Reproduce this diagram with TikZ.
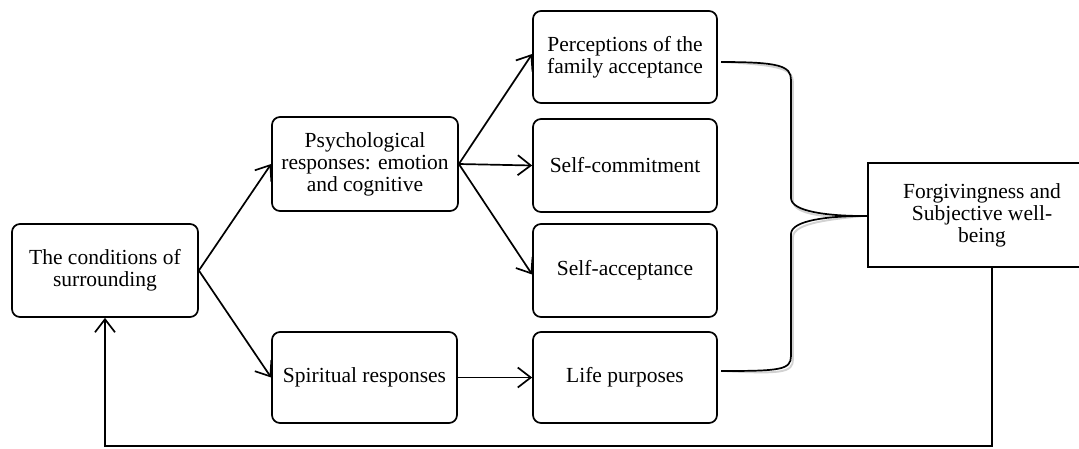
\documentclass[tikz,border=0pt]{standalone}
\usepackage{fontspec}
\setmainfont{Liberation Serif}
\usetikzlibrary{arrows.meta}
\begin{document}
\begin{tikzpicture}[x=1pt,y=-1pt,
  every node/.style={font=\fontsize{21.5}{22}\selectfont, align=center, inner sep=0pt},
  rbox/.style={draw, line width=1.7pt, rounded corners=8pt},
  sbox/.style={draw, line width=1.7pt},
  arr/.style={line width=1.7pt, -{Straight Barb[length=13pt,width=20pt,line width=1.7pt]}},
  ln/.style={line width=1.7pt}]
\clip (0,0) rectangle (1079,448);
\fill[white] (0,0) rectangle (1079,448);
\node[rbox, minimum width=186, minimum height=93] (cond) at (105,270.5) {The conditions of\\surrounding};
\node[rbox, minimum width=186, minimum height=94] (psych) at (365,164) {Psychological\\responses: emotion\\and cognitive};
\node[rbox, minimum width=185, minimum height=91] (spir) at (364.5,377.5) {Spiritual responses};
\node[rbox, minimum width=184, minimum height=92] (perc) at (625,57) {Perceptions of the\\family acceptance};
\node[rbox, minimum width=184, minimum height=93] (selfc) at (625,165.5) {Self-commitment};
\node[rbox, minimum width=184, minimum height=93] (selfa) at (625,270.5) {Self-acceptance};
\node[rbox, minimum width=184, minimum height=91] (life) at (625,377.5) {Life purposes};
\node[sbox, minimum width=228, minimum height=104] (forg) at (982,215) {Forgivingness and\\Subjective well-\\being};
% arrows
\draw[arr] (cond.east) -- (psych.west);
\draw[arr] (cond.east) -- (spir.west);
\draw[arr] (psych.east) -- ([yshift=3]perc.west);
\draw[arr] (psych.east) -- (selfc.west);
\draw[arr] (psych.east) -- ([yshift=-4]selfa.west);
\draw[arr] (spir.east) -- (life.west);
% brace
\coordinate (bt) at (721,62);
\coordinate (bb) at (721,371);
\coordinate (tip) at (864,216);
\draw[line width=1.9pt, gray!35, shift={(2,3)}] (bt) .. controls (780,62) and (791,66) .. (791,80) -- (791,198) .. controls (791,212) and (830,216) .. (tip) .. controls (830,216) and (791,220) .. (791,234) -- (791,356) .. controls (791,370) and (780,371) .. (bb);
\draw[ln] (bt) .. controls (780,62) and (791,66) .. (791,80) -- (791,198) .. controls (791,212) and (830,216) .. (tip) .. controls (830,216) and (791,220) .. (791,234) -- (791,356) .. controls (791,370) and (780,371) .. (bb);
\draw[ln] (tip) -- (forg.west |- tip);
% feedback
\coordinate (fb) at (992,446);
\draw[arr] (forg.south -| fb) -- (fb) -| (cond.south);
\end{tikzpicture}
\end{document}
